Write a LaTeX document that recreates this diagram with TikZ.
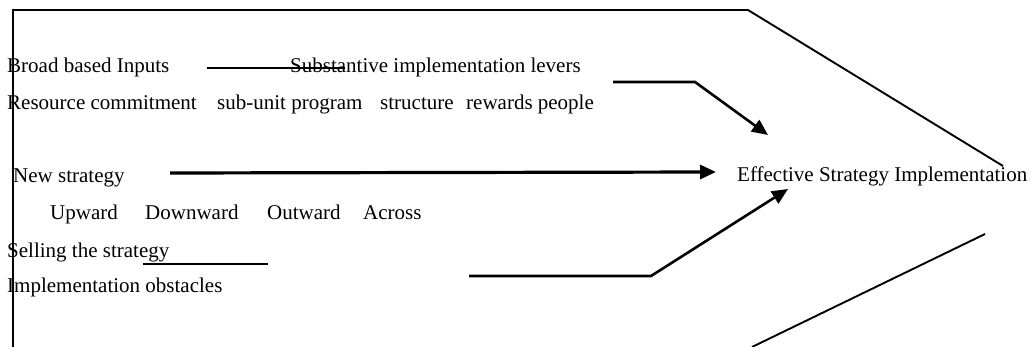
\documentclass[tikz,border=0pt]{standalone}
\usepackage{fontspec}
\setmainfont{Liberation Serif}
\usetikzlibrary{arrows.meta}
\definecolor{DiagLine}{HTML}{000000}
\definecolor{DiagText}{HTML}{000000}

\tikzset{
  lbl/.style={anchor=base west, inner sep=0pt, text=DiagText, font=\fontsize{21}{25}\selectfont},
  outline/.style={DiagLine, line width=1.9pt},
  lead/.style={DiagLine, line width=2.2pt},
  push/.style={DiagLine, line width=2.6pt, -{Triangle[length=16pt,width=14pt]}},
}

\begin{document}
\begin{tikzpicture}[x=1pt,y=-1pt]
    \useasboundingbox (0,0) rectangle (1033,347);
    % outline
    \draw[outline] (13,10) -- (748,10) -- (1003,166);
    \draw[outline, line width=2.8pt] (13,347) -- (13,9);
    \draw[outline] (752,347) -- (985,234);
    % texts
    \node[lbl] (inputs) at (7,73) {Broad based Inputs};
    \node[lbl] (levers) at (290,73) {Substantive implementation levers};
    \foreach \nm/\x/\txt in {resource/7/Resource commitment, subunit/217/sub-unit program,
                             structure/380/structure, rewards/466/rewards people} {
      \node[lbl] (\nm) at (\x,110) {\txt};
    }
    \node[lbl] (newstrat) at (13,183) {New strategy};
    \foreach \nm/\x in {Upward/50, Downward/145, Outward/267, Across/363} {
      \node[lbl] (\nm) at (\x,220) {\nm};
    }
    \node[lbl] (selling) at (7,258) {Selling the strategy};
    \node[lbl] (obstacles) at (7,293) {Implementation obstacles};
    \node[lbl] (effective) at (737,182) {Effective Strategy Implementation};
    % connector ends
    \coordinate (inA) at (207,68);
    \coordinate (inB) at (345,68);
    \coordinate (levA) at (613,82);
    \coordinate (levB) at (695,82);
    \coordinate (levC) at (768,135);
    \coordinate (newA) at (170,173);
    \coordinate (newB) at (716,172);
    \coordinate (selA) at (143,264);
    \coordinate (selB) at (268,264);
    \coordinate (selC) at (469,276);
    \coordinate (selD) at (651,276);
    \coordinate (selE) at (788,189);
    % connectors
    \draw[lead] (inA) -- (inB);
    \draw[push] (levA) -- (levB) -- (levC);
    \draw[push, line width=3.2pt] (newA) -- (newB);
    \draw[lead] (selA) -- (selB);
    \draw[push] (selC) -- (selD) -- (selE);
\end{tikzpicture}
\end{document}
